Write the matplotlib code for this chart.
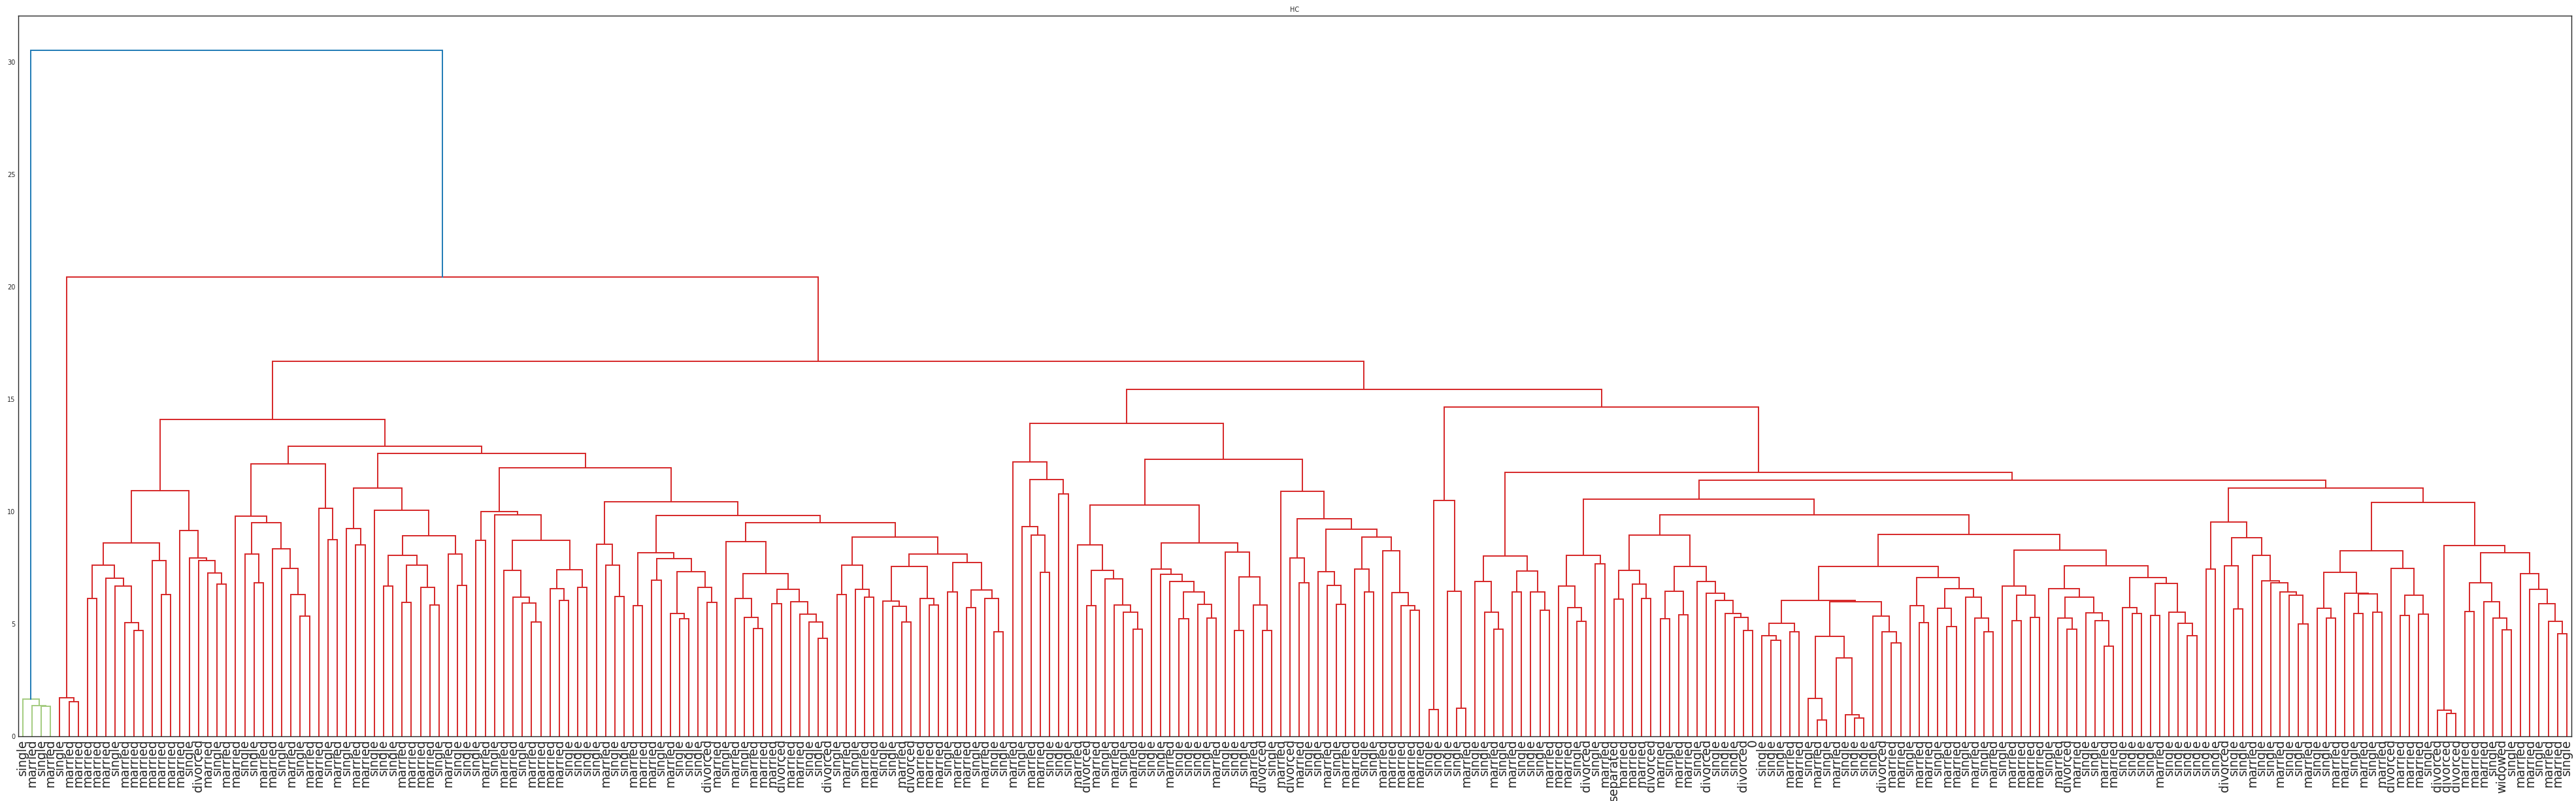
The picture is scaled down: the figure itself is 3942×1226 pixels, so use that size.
import matplotlib

matplotlib.use("Agg")
import matplotlib.pyplot as plt

# leaf labels, left to right as they appear under the dendrogram
leaf_labels = [
    "single", "married", "single", "married", "single", "married", "married", "married",
    "married", "married", "single", "married", "married", "married", "married", "married",
    "married", "married", "single", "divorced", "married", "single", "married", "married",
    "single", "single", "married", "married", "single", "married", "single", "married",
    "married", "single", "married", "single", "married", "married", "single", "single",
    "single", "married", "married", "married", "married", "single", "married", "single",
    "single", "single", "married", "single", "married", "married", "single", "married",
    "married", "married", "married", "single", "single", "single", "single", "married",
    "single", "single", "married", "married", "married", "single", "married", "single",
    "single", "single", "divorced", "married", "single", "married", "single", "married",
    "married", "married", "divorced", "married", "married", "single", "single", "divorced",
    "single", "married", "single", "married", "married", "single", "single", "married",
    "divorced", "married", "married", "married", "single", "married", "married", "single",
    "married", "single", "single", "married", "single", "married", "married", "single",
    "single", "single", "married", "divorced", "married", "single", "married", "single",
    "married", "single", "single", "single", "married", "single", "single", "single",
    "single", "married", "single", "single", "single", "married", "divorced", "single",
    "married", "divorced", "married", "single", "single", "married", "single", "married",
    "married", "single", "single", "married", "married", "married", "married", "married",
    "single", "single", "single", "single", "married", "single", "single", "married",
    "single", "married", "single", "single", "single", "married", "married", "married",
    "single", "divorced", "single", "married", "separated", "married", "married", "married",
    "divorced", "married", "single", "married", "married", "single", "divorced", "single",
    "single", "single", "divorced", "0", "single", "single", "single", "married",
    "married", "single", "married", "single", "married", "single", "single", "single",
    "single", "divorced", "married", "married", "single", "married", "married", "single",
    "married", "married", "single", "married", "single", "married", "single", "married",
    "married", "married", "married", "single", "married", "divorced", "married", "single",
    "single", "married", "married", "single", "single", "single", "single", "married",
    "single", "single", "single", "single", "single", "single", "divorced", "single",
    "single", "married", "single", "single", "married", "single", "single", "married",
    "single", "single", "married", "married", "single", "married", "single", "married",
    "divorced", "married", "married", "married", "single", "divorced", "divorced", "divorced",
    "married", "married", "married", "single", "widowed", "single", "married", "married",
    "single", "married", "married", "single",
]

# merge tree in newick form: "*" is the next leaf, the number after ")" is the merge height
green_part = "(*,(*,(*,*)1.34)1.38)1.66"
small_red = "(*,(*,*)1.54)1.73"

part_a = ("((((*,*)6.15,(*,(*,(*,(*,*)4.72)5.05)6.68)7.03)7.63,(*,(*,*)6.31)7.81)8.62,"
          "(*,(*,(*,(*,(*,*)6.77)7.26)7.83)7.95)9.17)10.94")
part_b = ("((*,((*,(*,*)6.84)8.11,(*,(*,(*,(*,*)5.35)6.31)7.47)8.36)9.52)9.79,"
          "(*,(*,*)8.76)10.14)12.12")
part_c = ("((*,(*,*)8.53)9.26,(*,(((*,*)6.68,((*,*)5.97,(*,(*,*)5.85)6.64)7.63)8.06,"
          "(*,(*,*)6.73)8.11)8.94)10.07)11.06")
part_d1 = ("((*,*)8.73,(*,((*,(*,(*,(*,*)5.09)5.94)6.20)7.38,((*,(*,*)6.05)6.58,"
           "(*,*)6.64)7.43)8.72)9.86)10.01")
part_d818 = "((*,*)5.81,((*,*)6.94,((*,(*,*)5.23)5.46,(*,(*,*)5.96)6.62)7.32)7.91)8.18"
part_d868 = ("(*,((*,(*,(*,*)4.80)5.29)6.14,((*,*)5.90,(*,(*,(*,(*,*)4.35)5.08)5.44)5.99)6.53)"
             "7.24)8.68")
part_d762 = "((*,*)6.32,(*,(*,*)6.18)6.53)7.62"
part_d757 = "((*,(*,(*,*)5.09)5.80)6.02,(*,(*,*)5.85)6.13)7.57"
part_d773 = "((*,*)6.44,((*,*)5.73,(*,(*,*)4.64)6.14)6.50)7.73"
part_d2 = ("((*,(*,(*,*)6.23)7.62)8.56,(" + part_d818 + ",(" + part_d868 + ",(" + part_d762
           + ",(" + part_d757 + "," + part_d773 + ")8.10)8.88)9.52)9.82)10.45")
part_d = "(" + part_d1 + "," + part_d2 + ")11.95"
left_block = "(" + part_a + ",(" + part_b + ",(" + part_c + "," + part_d + ")12.6)12.9)14.1"

part_e1 = "(*,((*,(*,(*,*)7.29)8.95)9.34,(*,*)10.78)11.43)12.22"
part_e853 = "(*,((*,*)5.81,(*,(*,(*,(*,*)4.76)5.53)5.85)7.02)7.38)8.53"
part_e744 = "(*,(*,(*,((*,*)5.23,(*,(*,*)5.26)5.88)6.44)6.90)7.21)7.44"
part_e821 = "(*,((*,*)4.72,(*,(*,*)4.70)5.85)7.09)8.21"
part_e1090 = ("(*,((*,(*,*)6.82)7.94,((*,(*,(*,*)5.88)6.73)7.32,((*,(*,*)6.44)7.44,"
              "(*,(*,(*,(*,*)5.61)5.83)6.40)8.25)8.88)9.21)9.69)10.90")
part_e2 = ("((" + part_e853 + ",(" + part_e744 + "," + part_e821 + ")8.62)10.30,"
           + part_e1090 + ")12.33")
part_e = "(" + part_e1 + "," + part_e2 + ")13.93"

part_f1051 = "((*,*)1.19,(*,(*,*)1.25)6.47)10.51"
part_f803 = "((*,(*,(*,*)4.76)5.53)6.90,((*,*)6.44,(*,(*,*)5.61)6.44)7.36)8.03"
part_f806 = "((*,(*,(*,*)5.11)5.73)6.70,(*,*)7.68)8.06"
part_f897a = ("(((*,*)6.12,(*,(*,*)6.14)6.77)7.38,(((*,*)5.23,(*,*)5.40)6.47,"
              "(*,(*,(*,(*,(*,(*,*)4.72)5.29)5.48)6.05)6.38)6.90)7.57)8.96")
part_f757 = ("((((*,(*,*)4.27)4.49,(*,*)4.66)5.03,(((*,(*,*)0.74)1.69,(*,(*,(*,*)0.80)0.95)3.48)4.44,"
             "(*,(*,(*,*)4.16)4.64)5.35)5.99)6.05,((*,(*,*)5.05)5.81,((*,(*,*)4.90)5.70,"
             "(*,(*,(*,*)4.64)5.26)6.20)6.58)7.06)7.57")
part_f830 = ("((*,((*,*)5.16,(*,*)5.29)6.27)6.70,((*,((*,(*,*)4.76)5.26,(*,(*,(*,*)4.02)5.16)5.49)"
             "6.18)6.58,((*,(*,*)5.46)5.73,((*,*)5.38,(*,(*,(*,*)4.49)5.02)5.53)6.80)7.08)7.59)8.30")
part_f954 = "((*,*)7.44,((*,(*,*)5.67)7.58,(*,(*,(*,(*,(*,(*,*)5.00)6.27)6.43)6.82)6.91)8.06)8.85)9.54"
part_f1041 = ("((((*,(*,*)5.25)5.69,(*,((*,*)5.46,(*,*)5.53)6.34)6.38)7.30,"
              "(*,((*,*)5.37,(*,*)5.44)6.27)7.47)8.27,((*,(*,*)1.01)1.15,"
              "(((*,*)5.55,(*,(*,(*,*)4.75)5.25)5.99)6.82,"
              "(*,(*,(*,(*,(*,*)4.56)5.12)5.90)6.54)7.24)8.18)8.48)10.41")
part_f986 = "(" + part_f897a + ",(" + part_f757 + "," + part_f830 + ")8.98)9.86"
part_f1139 = ("((" + part_f806 + "," + part_f986 + ")10.56,(" + part_f954 + ","
              + part_f1041 + ")11.04)11.39")
part_f = "(" + part_f1051 + ",(" + part_f803 + "," + part_f1139 + ")11.75)14.67"

right_block = "(" + part_e + "," + part_f + ")15.44"
tree_newick = ("(" + green_part + ",(" + small_red + ",(" + left_block + "," + right_block
               + ")16.7)20.44)30.55")

cluster_colors = ["#a3cb7f", "#d62728"]
above_color = "#1f7bb6"


def parse(s, pos, counter):
    if s[pos] == "*":
        idx = counter[0]
        counter[0] += 1
        return {"leaf": idx, "h": 0.0}, pos + 1
    pos += 1
    left, pos = parse(s, pos, counter)
    pos += 1  # ","
    right, pos = parse(s, pos, counter)
    pos += 1  # ")"
    end = pos
    while end < len(s) and (s[end].isdigit() or s[end] == "."):
        end += 1
    return {"left": left, "right": right, "h": float(s[pos:end])}, end


root, _ = parse(tree_newick, 0, [0])
n_leaves = len(leaf_labels)
threshold = 0.7 * root["h"]

fig = plt.figure(figsize=(39.42, 12.26), dpi=100)
ax = fig.add_axes([27.7 / 3942, 99 / 1226, (3935 - 27.7) / 3942, (1127 - 24) / 1226])

state = {"cluster": 0}


def draw(node, color=None):
    if "leaf" in node:
        return 5 + 10 * node["leaf"]
    if node["h"] <= threshold and color is None:
        color = cluster_colors[state["cluster"] % len(cluster_colors)]
        state["cluster"] += 1
    xl = draw(node["left"], color)
    xr = draw(node["right"], color)
    c = color if color is not None else above_color
    ax.plot([xl, xl, xr, xr], [node["left"]["h"], node["h"], node["h"], node["right"]["h"]],
            color=c, lw=1.4, solid_joinstyle="miter")
    return (xl + xr) / 2


draw(root)

ax.set_xlim(0, 10 * n_leaves)
ax.set_ylim(0, root["h"] * 1.05)
ax.set_xticks([5 + 10 * i for i in range(n_leaves)])
ax.set_xticklabels(leaf_labels, rotation=90, fontsize=13.5, color="#262626")
ax.set_yticks([0, 5, 10, 15, 20, 25, 30])
ax.tick_params(axis="both", length=0, pad=3)
ax.tick_params(axis="y", labelsize=7, labelcolor="#262626")
for sp in ax.spines.values():
    sp.set_color("#262626")
    sp.set_linewidth(1.0)
ax.set_title("HC", fontsize=7, color="#262626", pad=4)

fig.savefig("out.png", dpi=100)
